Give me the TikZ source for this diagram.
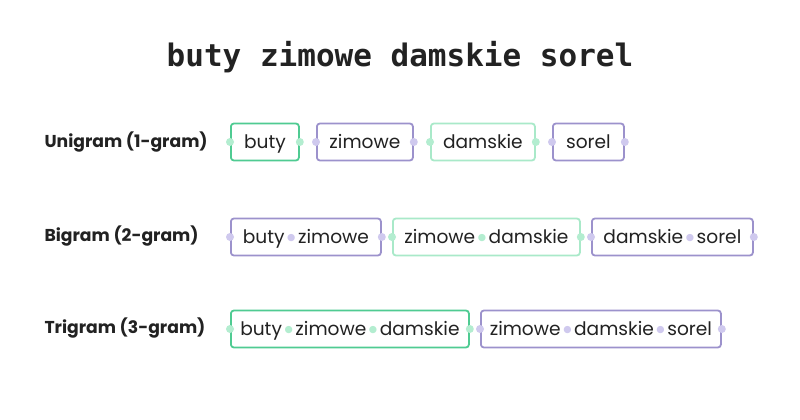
\documentclass[tikz,border=0pt]{standalone}
\usepackage{fontspec}
\setmainfont{Poppins}
\newfontfamily\titlefont{DejaVu Sans Mono}
\newfontfamily\dotfont{DejaVu Sans}
\definecolor{gdark}{HTML}{4FCB92}
\definecolor{glight}{HTML}{A9E9C9}
\definecolor{purp}{HTML}{9C92CC}
\definecolor{dotg}{HTML}{B3EDD0}
\definecolor{dotp}{HTML}{CFC9EE}
\definecolor{ink}{HTML}{222222}
\newcommand\worddot[1]{\hspace{2.6pt}\raisebox{2.6pt}{\dotfont\fontsize{9.5}{10}\selectfont\textcolor{#1}{●}}\hspace{2.6pt}}
\begin{document}
\begin{tikzpicture}[x=1pt,y=-1pt,
  gram/.style={draw, line width=1.8pt, rounded corners=3pt, minimum height=37pt, inner sep=0pt,
    text height=15pt, text depth=3pt,
    anchor=west, text=ink, font=\fontsize{18.6}{20}\selectfont},
  gd/.style={gram, draw=gdark},
  gl/.style={gram, draw=glight},
  pp/.style={gram, draw=purp},
  rowlabel/.style={anchor=west, text=ink, font=\fontsize{17.2}{19}\selectfont\bfseries},
  title/.style={text=ink, font=\fontsize{31}{34}\selectfont\titlefont\bfseries}]
\useasboundingbox (0,0) rectangle (800,420);
\fill[white] (0,0) rectangle (800,420);
\node[title] (t) at (400,57) {buty zimowe damskie sorel};
\node[rowlabel] (l1) at (41,142) {Unigram (1-gram)};
\node[rowlabel] (l2) at (41,236) {Bigram (2-gram)};
\node[rowlabel] (l3) at (41,328) {Trigram (3-gram)};
% row 1
\node[gd, minimum width=68pt] (u1) at (230,142) {buty};
\node[pp, minimum width=96pt] (u2) at (316,142) {zimowe};
\node[gl, minimum width=104pt] (u3) at (430,142) {damskie};
\node[pp, minimum width=71pt] (u4) at (552,142) {sorel};
% row 2
\node[pp, minimum width=150pt] (b1) at (230,237) {buty\worddot{dotp}zimowe};
\node[gl, minimum width=187pt] (b2) at (392,237) {zimowe\worddot{dotg}damskie};
\node[pp, minimum width=161pt] (b3) at (591,237) {damskie\worddot{dotp}sorel};
% row 3
\node[gd, minimum width=238pt] (c1) at (230,329) {buty\worddot{dotg}zimowe\worddot{dotg}damskie};
\node[pp, minimum width=240pt] (c2) at (480,329) {zimowe\worddot{dotp}damskie\worddot{dotp}sorel};
% edge dots
\foreach \n in {u1,u3,b2,c1}{\fill[dotg] (\n.west) circle (4pt); \fill[dotg] (\n.east) circle (4pt);}
\foreach \n in {u2,u4,b1,b3,c2}{\fill[dotp] (\n.west) circle (4pt); \fill[dotp] (\n.east) circle (4pt);}
\end{tikzpicture}
\end{document}
